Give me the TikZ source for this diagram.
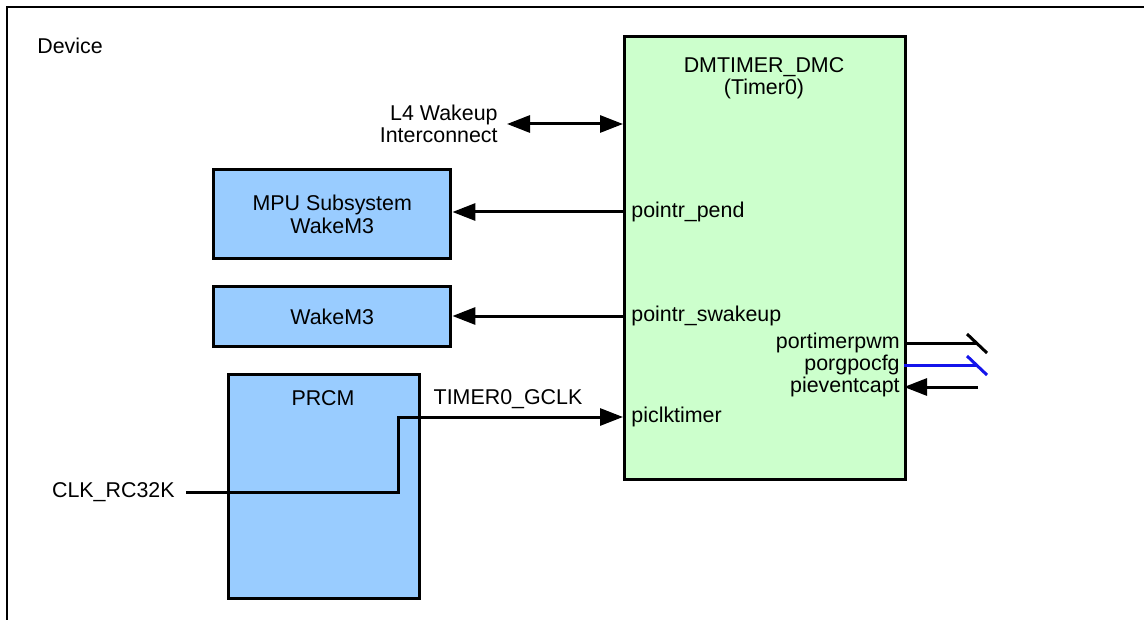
\documentclass[tikz,border=0pt]{standalone}
\usepackage{fontspec}
\setmainfont{Liberation Sans}
\usetikzlibrary{arrows.meta}

\definecolor{dmcgreen}{HTML}{CCFFCC}
\definecolor{modblue}{HTML}{99CCFF}
\definecolor{gpoblue}{RGB}{20,20,235}

\begin{document}
\begin{tikzpicture}[x=0.5pt,y=-0.5pt,
  font=\fontsize{10.7}{11.2}\selectfont,
  blk/.style={draw,line width=1.7pt,inner sep=0pt,anchor=north west},
  wire/.style={line width=1.5pt},
  arr/.style={wire,-{Triangle[length=11.5pt,width=8.5pt]}},
  dblarr/.style={wire,{Triangle[length=11.5pt,width=8.5pt]}-{Triangle[length=11.5pt,width=8.5pt]}},
  portl/.style={anchor=west,inner xsep=4pt,inner ysep=0pt},
  portr/.style={anchor=east,inner xsep=2pt,inner ysep=0pt}]
  \useasboundingbox (0,0) rectangle (1144,620);
  % device frame
  \draw[line width=1pt] (7,620) -- (7,7) -- (1144,7);
  \node[anchor=west,inner sep=0pt] (dev) at (37,46) {Device};

  % blocks
  \node[blk,fill=dmcgreen,minimum width=140.5pt,minimum height=221.5pt] (dmc) at (623,35) {};
  \node[align=center] (dmctxt) at (764,78) {DMTIMER\_DMC\\(Timer0)};
  \node[blk,fill=modblue,minimum width=118.5pt,minimum height=44.5pt,align=center] (mpu) at (212,168) {MPU Subsystem\\WakeM3};
  \node[blk,fill=modblue,minimum width=118.5pt,minimum height=30pt] (wkm) at (212,285) {WakeM3};
  \node[blk,fill=modblue,minimum width=95.5pt,minimum height=112pt] (prcm) at (227,373) {};
  \node (prcmtxt) at (323,398) {PRCM};

  % interconnect
  \node[anchor=east,align=right,inner xsep=4.5pt] (l4) at (507,124) {L4 Wakeup\\Interconnect};
  \draw[dblarr] (l4.east) -- (l4.east -| dmc.west);

  % ports on the left
  \node[portl] (pend) at (623,212) {pointr\_pend};
  \node[portl] (swk) at (623,316) {pointr\_swakeup};
  \node[portl] (clkt) at (623,417) {piclktimer};
  \draw[arr] (pend.west) -- (pend.west -| mpu.east);
  \draw[arr] (swk.west) -- (swk.west -| wkm.east);

  % clock
  \node[anchor=east,inner xsep=5.5pt,inner ysep=0pt] (clk) at (186,492) {CLK\_RC32K};
  \draw[arr] (clk.east) -- (398,492) |- (clkt.west);
  \node (gclk) at (508,399) {TIMER0\_GCLK};

  % ports on the right
  \node[portr] (pwm) at (904,343) {portimerpwm};
  \node[portr] (gpo) at (904,365) {porgpocfg};
  \node[portr] (cap) at (904,387) {pieventcapt};
  \coordinate (pwmend) at (977,343);
  \coordinate (gpoend) at (977,365);
  \coordinate (capsrc) at (978,387);
  \draw[wire] (pwm.east) -- (pwmend);
  \draw[wire] (967,334) -- (987,353);
  \draw[wire,gpoblue] (gpo.east) -- (gpoend);
  \draw[wire,gpoblue] (967,356) -- (987,375);
  \draw[arr] (capsrc) -- (cap.east);
\end{tikzpicture}
\end{document}
